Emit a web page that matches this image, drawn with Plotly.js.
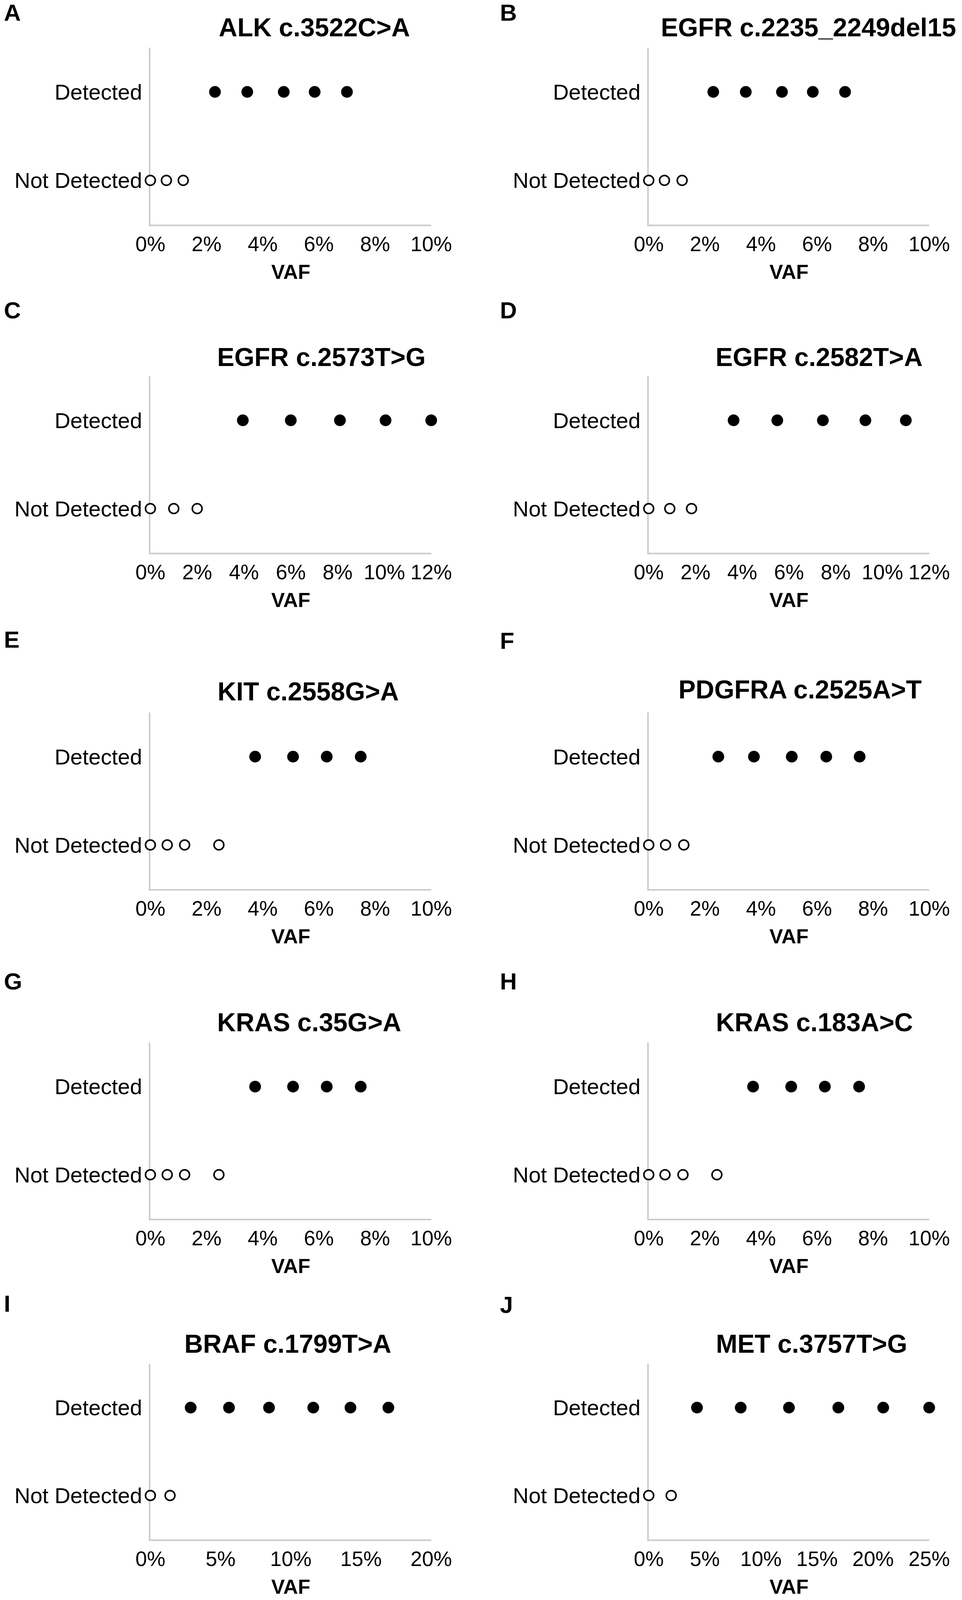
<!DOCTYPE html>
<html><head><meta charset="utf-8">
<script src="https://cdn.plot.ly/plotly-3.0.1.min.js"></script>
<style>html,body{margin:0;padding:0;background:#fff}</style>
</head><body>
<div id="chart" style="width:2463px;height:4098px"></div>
<script>
// ---- data ----
const letters = ["A","B","C","D","E","F","G","H","I","J"];
const titles = ["ALK c.3522C>A","EGFR c.2235_2249del15","EGFR c.2573T>G","EGFR c.2582T>A",
  "KIT c.2558G>A","PDGFRA c.2525A>T","KRAS c.35G>A","KRAS c.183A>C","BRAF c.1799T>A","MET c.3757T>G"];
const categories = ["Not Detected","Detected"];
const xMax = [10,10,12,12,10,10,10,10,20,25];
const xStep = [2,2,2,2,2,2,2,2,5,5];
const detA = [2.3,3.45,4.75,5.85,7.0],        ndA = [0,0.57,1.17];
const detB = [2.3,3.46,4.75,5.85,7.0],        ndB = [0,0.56,1.19];
const detC = [3.95,6.0,8.1,10.05,12.0],       ndC = [0,1.0,2.0];
const detD = [3.63,5.5,7.45,9.27,11.0],       ndD = [0,0.9,1.83];
const detE = [3.73,5.08,6.28,7.49],           ndE = [0,0.6,1.22,2.44];
const detF = [2.48,3.75,5.1,6.33,7.52],       ndF = [0,0.6,1.25];
const detG = [3.73,5.08,6.28,7.49],           ndG = [0,0.6,1.22,2.44];
const detH = [3.72,5.08,6.28,7.5],            ndH = [0,0.58,1.22,2.43];
const detI = [2.87,5.6,8.45,11.6,14.25,16.95], ndI = [0,1.4];
const detJ = [4.3,8.2,12.5,16.9,20.9,25.0],   ndJ = [0,2.0];
const detected = [detA,detB,detC,detD,detE,detF,detG,detH,detI,detJ];
const notDetected = [ndA,ndB,ndC,ndD,ndE,ndF,ndG,ndH,ndI,ndJ];

// ---- layout geometry (pixels) ----
const W = 2463, H = 4098;
const colX = [[385,1104],[1661,2379]];
const rowY = [[122,575],[963,1415],[1824,2276],[2669,3120],[3491,3941]];
const titleY = [70,70,914,914,1770,1765,2617,2617,3440,3440];
const titleX = [805,2070,823,2097,789,2048,791,2085,737,2078];
const letterY = [32,32,795,795,1638,1640,2512,2512,3337,3340];
const letterX = [8,1278];

const FONT = "Liberation Sans, Arial, sans-serif";
const fx = p => p / W, fy = p => 1 - p / H;

const traces = [], layout = {
  width: W, height: H, margin: {l:0,r:0,t:0,b:0},
  paper_bgcolor: "#fff", plot_bgcolor: "#fff", showlegend: false,
  font: {family: FONT, color: "#000"}, annotations: []
};

for (let i = 0; i < 10; i++) {
  const col = i % 2, row = Math.floor(i / 2);
  const n = i + 1, xa = "x" + (n === 1 ? "" : n), ya = "y" + (n === 1 ? "" : n);
  traces.push({
    type: "scatter", mode: "markers", xaxis: xa, yaxis: ya, cliponaxis: false,
    x: detected[i], y: detected[i].map(() => categories[1]),
    marker: {symbol: "circle", size: 30, color: "#000"}, hoverinfo: "x"
  });
  traces.push({
    type: "scatter", mode: "markers", xaxis: xa, yaxis: ya, cliponaxis: false,
    x: notDetected[i], y: notDetected[i].map(() => categories[0]),
    marker: {symbol: "circle", size: 25, color: "#fff", line: {color: "#000", width: 4}}, hoverinfo: "x"
  });
  const xKey = "xaxis" + (n === 1 ? "" : n), yKey = "yaxis" + (n === 1 ? "" : n);
  layout[xKey] = {
    domain: [fx(colX[col][0]), fx(colX[col][1])], anchor: ya,
    range: [0, xMax[i]], dtick: xStep[i], tick0: 0, ticksuffix: "%",
    showgrid: false, zeroline: false, showline: true, linecolor: "#cccccc", linewidth: 4,
    ticks: "outside", ticklen: 0, tickcolor: "rgba(0,0,0,0)",
    tickfont: {size: 53, family: FONT, color: "#000"}, layer: "below traces",
    title: {text: "VAF", font: {size: 52, family: FONT, weight: "bold", color: "#000"}, standoff: 26},
    fixedrange: true
  };
  layout[yKey] = {
    domain: [fy(rowY[row][1]), fy(rowY[row][0])], anchor: xa,
    type: "category", categoryorder: "array", categoryarray: categories, range: [-0.5, 1.5],
    showgrid: false, zeroline: false, showline: true, linecolor: "#cccccc", linewidth: 4,
    ticks: "outside", ticklen: 6, tickcolor: "rgba(0,0,0,0)",
    tickfont: {size: 56, family: FONT, color: "#000"}, layer: "below traces", fixedrange: true
  };
  layout.annotations.push({
    text: titles[i], xref: "paper", yref: "paper", x: fx(titleX[i]), y: fy(titleY[i]),
    xanchor: "center", yanchor: "middle", showarrow: false,
    font: {size: 66, family: FONT, weight: "bold", color: "#000"}
  });
  layout.annotations.push({
    text: letters[i], xref: "paper", yref: "paper", x: fx(letterX[col]), y: fy(letterY[i]),
    xanchor: "left", yanchor: "middle", showarrow: false,
    font: {size: 60, family: FONT, weight: "bold", color: "#000"}
  });
}

Plotly.newPlot("chart", traces, layout, {staticPlot: true, displayModeBar: false});
</script>
</body></html>
